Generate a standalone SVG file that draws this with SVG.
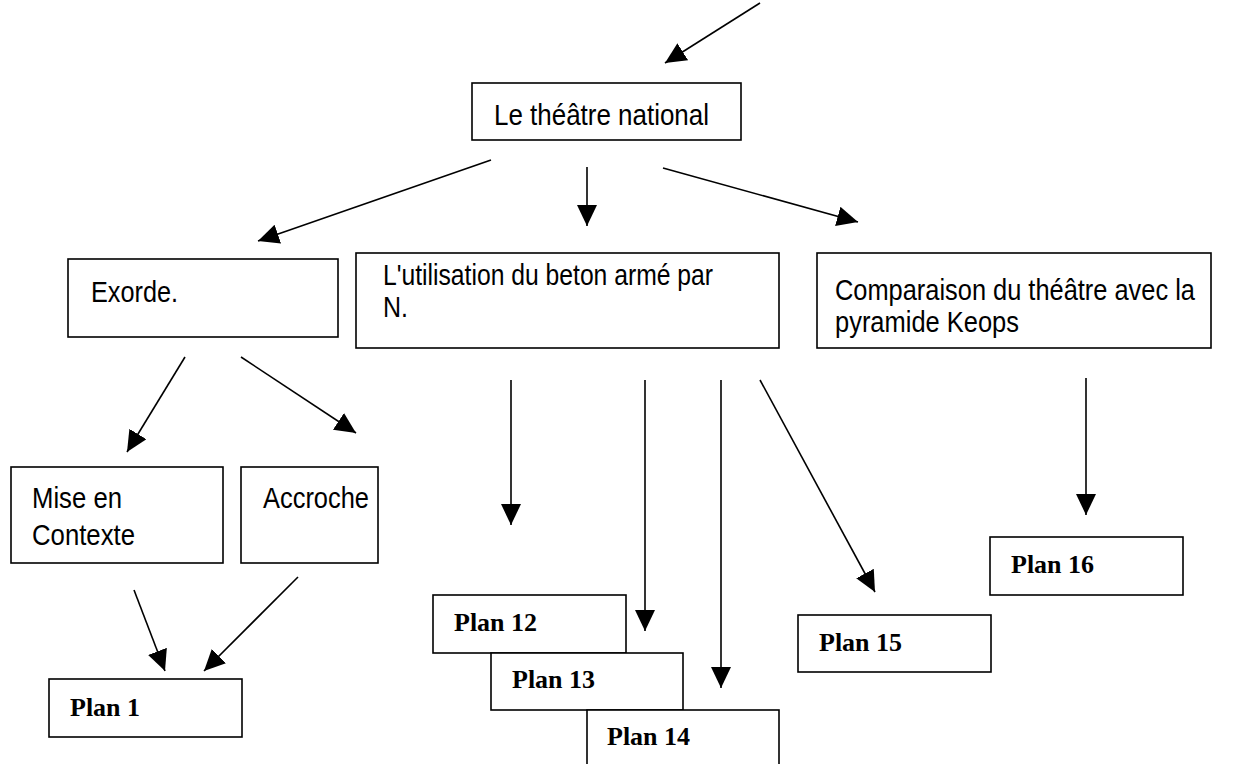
<svg xmlns="http://www.w3.org/2000/svg" width="1239" height="764" viewBox="0 0 1239 764">
<style>
.box{fill:#fff;stroke:#000;stroke-width:1.6}
.t{font-family:"Liberation Sans",Arial,sans-serif;font-size:30px;fill:#000}
.p{font-family:"Liberation Serif","Times New Roman",serif;font-size:26px;font-weight:bold;fill:#000}
.c line{stroke:#000;stroke-width:1.6;marker-end:url(#ah)}
</style>
<defs>
<marker id="ah" markerUnits="userSpaceOnUse" markerWidth="22" markerHeight="21" refX="21" refY="10" orient="auto">
<path d="M0,0 L21,10 L0,20 Z" fill="#000"/>
</marker>
</defs>
<rect width="1239" height="764" fill="#fff"/>
<g class="c" id="connectors">
<line x1="760" y1="3" x2="665" y2="63"/>
<line x1="491" y1="160" x2="258" y2="241"/>
<line x1="587" y1="167" x2="587" y2="226"/>
<line x1="663" y1="168" x2="858" y2="222"/>
<line x1="185" y1="357" x2="127" y2="452"/>
<line x1="241" y1="357" x2="356" y2="433"/>
<line x1="511" y1="380" x2="511" y2="525"/>
<line x1="645" y1="380" x2="645" y2="631"/>
<line x1="721" y1="380" x2="721" y2="688"/>
<line x1="760" y1="380" x2="875" y2="592"/>
<line x1="1086" y1="378" x2="1086" y2="515"/>
<line x1="134" y1="590" x2="165" y2="671"/>
<line x1="298" y1="577" x2="204" y2="671"/>
</g>
<g id="n-theatre"><rect class="box" x="472" y="83" width="269" height="57"/><text class="t" x="494" y="125" textLength="215" lengthAdjust="spacingAndGlyphs">Le théâtre national</text></g>
<g id="n-exorde"><rect class="box" x="68" y="259" width="270" height="78"/><text class="t" x="91" y="302" textLength="87" lengthAdjust="spacingAndGlyphs">Exorde.</text></g>
<g id="n-beton"><rect class="box" x="356" y="253" width="423" height="95"/><text class="t" x="383" y="285" textLength="330" lengthAdjust="spacingAndGlyphs">L'utilisation du beton armé par</text><text class="t" x="383" y="317" textLength="25" lengthAdjust="spacingAndGlyphs">N.</text></g>
<g id="n-comparaison"><rect class="box" x="817" y="253" width="394" height="95"/><text class="t" transform="translate(835,300) scale(0.847,1)">Comparaison du théâtre avec la</text><text class="t" x="835" y="332" textLength="184" lengthAdjust="spacingAndGlyphs">pyramide Keops</text></g>
<g id="n-mise"><rect class="box" x="11" y="467" width="212" height="96"/><text class="t" x="32" y="508" textLength="90" lengthAdjust="spacingAndGlyphs">Mise en</text><text class="t" x="32" y="545" textLength="103" lengthAdjust="spacingAndGlyphs">Contexte</text></g>
<g id="n-accroche"><rect class="box" x="241" y="467" width="137" height="96"/><text class="t" x="263" y="508" textLength="106" lengthAdjust="spacingAndGlyphs">Accroche</text></g>
<g id="n-plan1"><rect class="box" x="49" y="679" width="193" height="58"/><text class="p" x="70" y="716">Plan 1</text></g>
<g id="n-plan12"><rect class="box" x="433" y="595" width="193" height="58"/><text class="p" x="454" y="631">Plan 12</text></g>
<g id="n-plan13"><rect class="box" x="491" y="653" width="192" height="57"/><text class="p" x="512" y="688">Plan 13</text></g>
<g id="n-plan14"><rect class="box" x="587" y="710" width="192" height="60"/><text class="p" x="607" y="745">Plan 14</text></g>
<g id="n-plan15"><rect class="box" x="798" y="615" width="193" height="57"/><text class="p" x="819" y="651">Plan 15</text></g>
<g id="n-plan16"><rect class="box" x="990" y="537" width="193" height="58"/><text class="p" x="1011" y="573">Plan 16</text></g>
</svg>
